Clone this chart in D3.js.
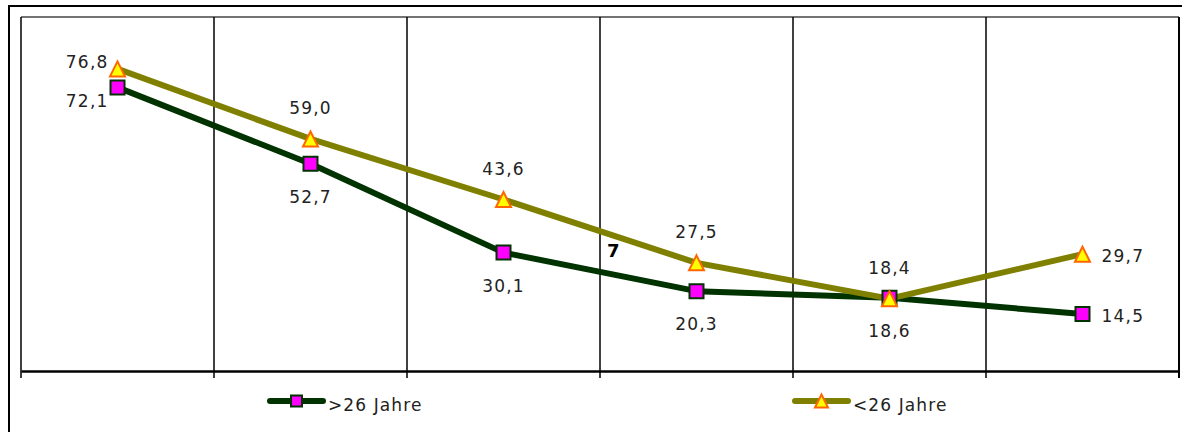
<!DOCTYPE html>
<html>
<head>
<meta charset="utf-8">
<script src="https://cdn.jsdelivr.net/npm/d3@7"></script>
<style>
  html, body { margin: 0; padding: 0; background: #fff; }
  svg { display: block; }
  text { font-family: "DejaVu Sans", Verdana, sans-serif; }
</style>
</head>
<body>
<svg id="chart" width="1182" height="432"></svg>
<script>
// Six unlabeled periods along the x axis
const categories = ["1", "2", "3", "4", "5", "6"];

// Series values (percent)
const olderValues = [72.1, 52.7, 30.1, 20.3, 18.6, 14.5];   // >26 Jahre
const youngerValues = [76.8, 59.0, 43.6, 27.5, 18.4, 29.7]; // <26 Jahre

const seriesNames = [">26 Jahre", "<26 Jahre"];

// Value axis range
const yDomain = [0, 90];

// Stray note drawn inside the plot
const noteText = "7";
const noteValue = 29;

// Where each value label sits relative to its marker
const olderLabelPlacement = ["left-low", "below", "below", "below", "below", "right"];
const youngerLabelPlacement = ["left", "above", "above", "above", "above", "right"];

const fmt = v => d3.format(".1f")(v).replace(".", ",");

const svg = d3.select("#chart");

const plot = { left: 21, top: 17, right: 1179, bottom: 371 };

const x = d3.scaleBand()
  .domain(categories)
  .range([plot.left, plot.right])
  .paddingInner(0).paddingOuter(0);

const y = d3.scaleLinear()
  .domain(yDomain)
  .range([plot.bottom, plot.top]);

const cx = c => x(c) + x.bandwidth() / 2;

// Outer frame (runs past the right and bottom edges)
svg.append("rect")
  .attr("x", 9).attr("y", 6)
  .attr("width", 1185).attr("height", 440)
  .attr("fill", "none").attr("stroke", "#000").attr("stroke-width", 2);

// Plot area top border
svg.append("line")
  .attr("x1", plot.left).attr("x2", plot.right)
  .attr("y1", plot.top).attr("y2", plot.top)
  .attr("stroke", "#444").attr("stroke-width", 1.5);

// Vertical grid lines at band edges (including plot sides), extended as ticks
const edges = categories.map(c => x(c)).concat([x.range()[1]]);
svg.append("g").selectAll("line")
  .data(edges)
  .join("line")
  .attr("x1", d => d).attr("x2", d => d)
  .attr("y1", plot.top).attr("y2", plot.bottom + 7)
  .attr("stroke", "#000").attr("stroke-width", d => (d === plot.right ? 2 : 1.5));

// Category axis line
const xAxis = d3.axisBottom(x).tickSize(0).tickFormat("");
const axisG = svg.append("g")
  .attr("transform", `translate(0,${plot.bottom})`)
  .call(xAxis);
axisG.select(".domain").attr("stroke", "#000").attr("stroke-width", 2.5);

// Series drawing
const line = d3.line()
  .x((d, i) => cx(categories[i]))
  .y(d => y(d));

const olderColor = "#003300";
const youngerColor = "#808000";

function squarePath(s) {
  return `M${-s / 2},${-s / 2}h${s}v${s}h${-s}Z`;
}
function trianglePath(w, h) {
  return `M0,${-h / 2}L${w / 2},${h / 2}L${-w / 2},${h / 2}Z`;
}

svg.append("path")
  .datum(olderValues)
  .attr("d", line)
  .attr("fill", "none").attr("stroke", olderColor)
  .attr("stroke-width", 6).attr("stroke-linejoin", "round");

svg.append("path")
  .datum(youngerValues)
  .attr("d", line)
  .attr("fill", "none").attr("stroke", youngerColor)
  .attr("stroke-width", 6).attr("stroke-linejoin", "round");

svg.append("g").selectAll("path")
  .data(olderValues)
  .join("path")
  .attr("transform", (d, i) => `translate(${cx(categories[i])},${y(d)})`)
  .attr("d", squarePath(14))
  .attr("fill", "#ff00ff").attr("stroke", olderColor).attr("stroke-width", 2);

svg.append("g").selectAll("path")
  .data(youngerValues)
  .join("path")
  .attr("transform", (d, i) => `translate(${cx(categories[i])},${y(d)})`)
  .attr("d", trianglePath(15, 15))
  .attr("fill", "#ffff00").attr("stroke", "#ff6600").attr("stroke-width", 2)
  .attr("stroke-linejoin", "miter");

// Value labels
const labelOffsets = {
  "left":     { dx: -9, dy: -1, anchor: "end" },
  "left-low": { dx: -9, dy: 20, anchor: "end" },
  "above":    { dx: 0, dy: -25, anchor: "middle" },
  "below":    { dx: 0, dy: 39, anchor: "middle" },
  "right":    { dx: 19, dy: 8, anchor: "start" }
};

function drawLabels(values, placement) {
  svg.append("g").selectAll("text")
    .data(values)
    .join("text")
    .attr("x", (d, i) => cx(categories[i]) + labelOffsets[placement[i]].dx)
    .attr("y", (d, i) => y(d) + labelOffsets[placement[i]].dy)
    .attr("text-anchor", (d, i) => labelOffsets[placement[i]].anchor)
    .attr("font-size", 17)
    .attr("letter-spacing", 1.2)
    .attr("fill", "#222")
    .text(d => fmt(d));
}
drawLabels(olderValues, olderLabelPlacement);
drawLabels(youngerValues, youngerLabelPlacement);

// Note
svg.append("text")
  .attr("x", x(categories[3]) + 7)
  .attr("y", y(noteValue))
  .attr("font-size", 18)
  .attr("font-weight", "bold")
  .attr("fill", "#000")
  .text(noteText);

// Legend
const legendY = 401;
const legend = [
  { name: seriesNames[0], x0: 270, color: olderColor, marker: "square" },
  { name: seriesNames[1], x0: 795, color: youngerColor, marker: "triangle" }
];
const lg = svg.append("g").selectAll("g")
  .data(legend)
  .join("g")
  .attr("transform", d => `translate(${d.x0},${legendY})`);
lg.append("line")
  .attr("x1", 0).attr("x2", 53)
  .attr("y1", 0).attr("y2", 0)
  .attr("stroke", d => d.color).attr("stroke-width", 6).attr("stroke-linecap", "round");
lg.append("path")
  .attr("transform", "translate(26.5,0)")
  .attr("d", d => d.marker === "square" ? squarePath(11) : trianglePath(13, 13))
  .attr("fill", d => d.marker === "square" ? "#ff00ff" : "#ffff00")
  .attr("stroke", d => d.marker === "square" ? olderColor : "#ff6600")
  .attr("stroke-width", 2);
lg.append("text")
  .attr("x", 58).attr("y", 10)
  .attr("font-size", 17)
  .attr("letter-spacing", 1.1)
  .attr("fill", "#222")
  .text(d => d.name);
</script>
</body>
</html>
